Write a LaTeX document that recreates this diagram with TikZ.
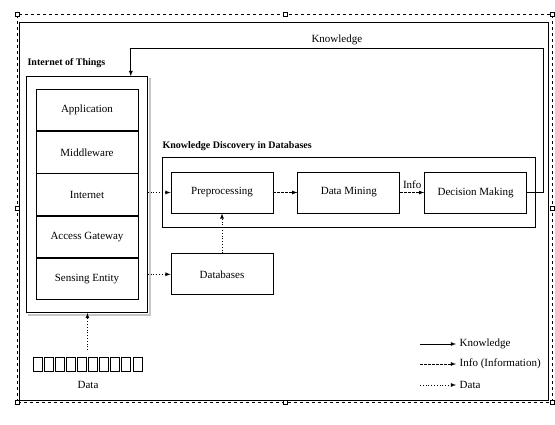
\documentclass[tikz,border=0pt]{standalone}
\usepackage{fontspec}
\setmainfont{Liberation Serif}
\usetikzlibrary{arrows, positioning, fit, calc}

\begin{document}
\begin{tikzpicture}[x=1pt, y=1pt, thick,
        font=\fontsize{11}{13}\selectfont,
        node distance = 24pt and 24pt,
        layer/.style = {draw, minimum width=102pt, minimum height=41.4pt, inner sep=0pt},
        kddstep/.style = {draw, minimum width=102pt, minimum height=41pt, inner sep=0pt},
        cell/.style = {draw, minimum width=9pt, minimum height=14pt, inner sep=0pt},
        handle/.style = {draw, thin, fill=white, minimum size=4pt, inner sep=0pt},
        know/.style = {-latex},
        info/.style = {-latex, dash pattern=on 2.5pt off 1.5pt},
        datal/.style = {-latex, dash pattern=on 1pt off 1.8pt},
    ]
    \useasboundingbox (0,0) rectangle (555,424);
    % canvas frame
    \draw (19,24) rectangle (548,402);
    \draw[thin, dashed] (17,22) rectangle (552,410);
    \foreach \hx/\hy [count=\k] in {17/22, 285/22, 552/22, 17/216, 552/216, 17/410, 285/410, 552/410}
        \node[handle] (hd\k) at (\hx,\hy) {};
    %
    \node[layer]                    (app)   at (87,313.8) {Application};
    \node[layer, below=0pt of app]  (mid)   {Middleware};
    \node[layer, below=0pt of mid]  (net)   {Internet};
    \node[layer, below=0pt of net]  (gate)  {Access Gateway};
    \node[layer, below=0pt of gate] (sense) {Sensing Entity};
    \node[draw, fit=(app)(sense), inner xsep=9pt, inner ysep=12.5pt,
          label={[anchor=south west, font=\bfseries, inner sep=0pt, yshift=8pt, xshift=1pt]north west:Internet of Things}] (iot) {};
    \draw[gray!45, line width=2pt] ([xshift=2pt, yshift=-2pt]iot.north east) |- ([xshift=2pt, yshift=-2pt]iot.south west);
    \coordinate (kin) at ([xshift=-17pt]iot.north east);
    %
    \node[kddstep]                  (prep)  at (222,231.5) {Preprocessing};
    \node[kddstep, right=of prep]   (dm)    {Data Mining};
    \node[kddstep, right=of dm]     (dec)   {Decision Making};
    \node[draw, fit=(prep)(dec), inner xsep=8pt, inner ysep=14pt,
          label={[anchor=south west, font=\bfseries, inner sep=0pt, yshift=6pt]north west:Knowledge Discovery in Databases}] (kdd) {};
    \node[kddstep, below=40pt of prep] (db) {Databases};
    %
    \foreach \i in {0,...,9}
        \node[cell] (c\i) at (37.5+11.1*\i, 59.5) {};
    \node (data) at (88,39) {Data};
    \coordinate (dsrc) at ($(c4.north)!0.5!(c5.north)+(0,7)$);
    %
    \node[anchor=west] (lgk) at (456,80) {Knowledge};
    \node[anchor=west] (lgi) at (456,60) {Info (Information)};
    \node[anchor=west] (lgd) at (456,39) {Data};
    \coordinate[left=36pt of lgk.west] (lgk0);
    \coordinate[left=36pt of lgi.west] (lgi0);
    \coordinate[left=36pt of lgd.west] (lgd0);
    %
    \draw[datal] (dsrc) -- (dsrc |- iot.south);
    \draw[datal] (iot.east |- prep.west) -- (prep.west);
    \draw[datal] (iot.east |- db.west) -- (db.west);
    \draw[datal] (db) -- (prep);
    \draw[info]  (prep) -- (dm);
    \draw[info]  (dm) -- node[above] {Info} (dec);
    \draw[know]  (dec.east) -- ++(16,0) |- ([yshift=28pt]kin) node[pos=0.75, above] {Knowledge} -- (kin);
    \draw[know]  (lgk0) -- (lgk.west);
    \draw[info]  (lgi0) -- (lgi.west);
    \draw[datal] (lgd0) -- (lgd.west);
    %
\end{tikzpicture}
\end{document}
